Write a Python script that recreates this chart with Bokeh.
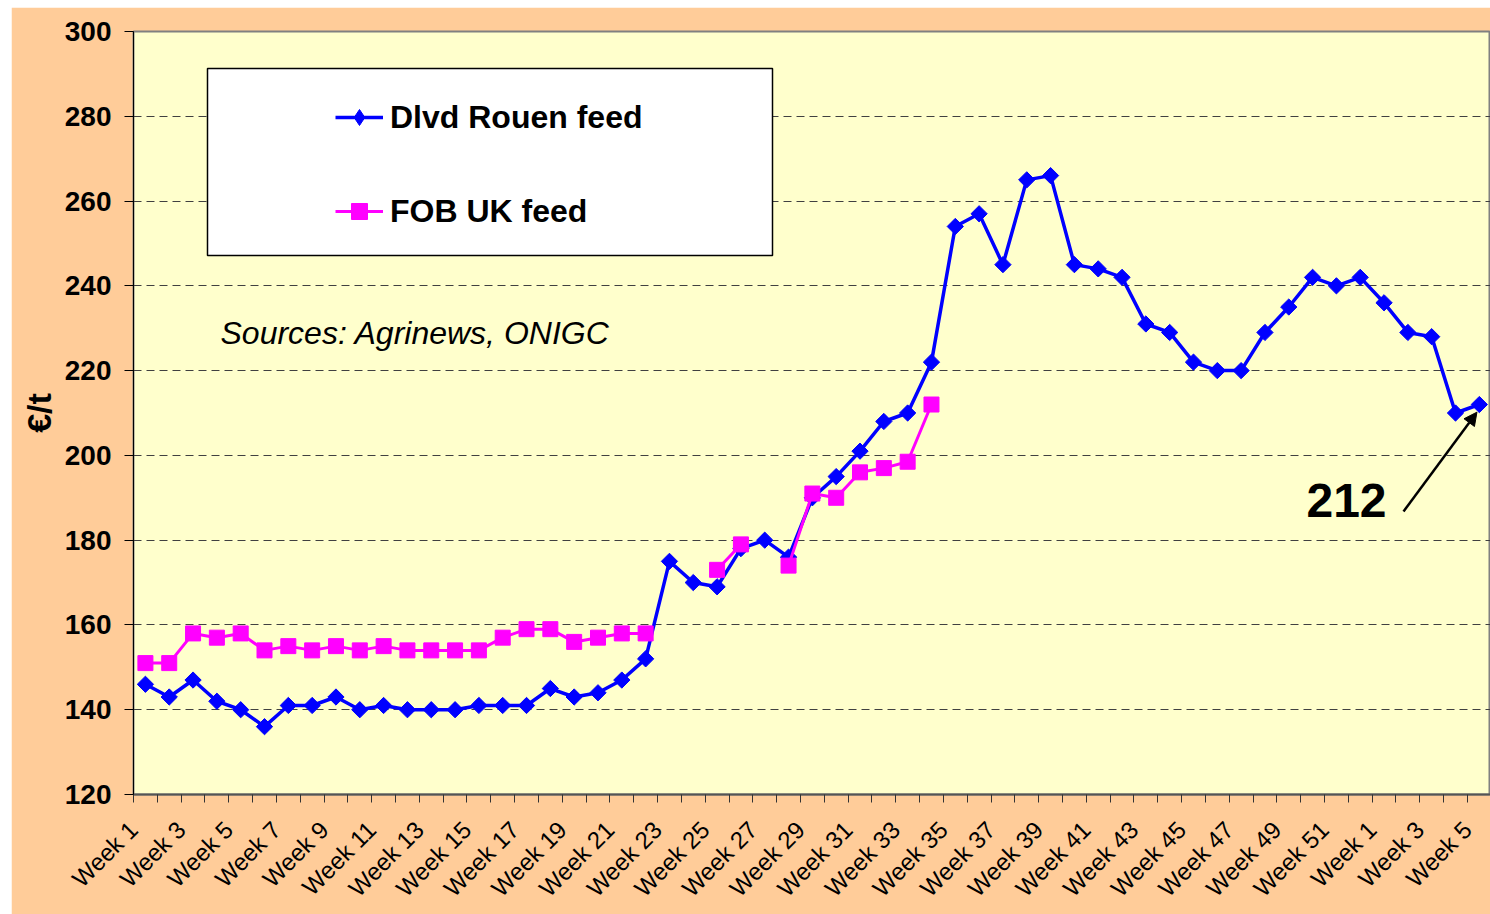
from bokeh.plotting import figure
from bokeh.models import (Range1d, FixedTicker, CustomJSTickFormatter, Legend, LegendItem,
                          BoxAnnotation, Label, Arrow, NormalHead)
from bokeh.embed import file_html
from bokeh.resources import INLINE
import math

nan = float("nan")

# ---- data ----
weeks = [f"Week {i}" for i in range(1, 53)] + [f"Week {i}" for i in range(1, 6)]

rouen = [146, 143, 147, 142, 140, 136, 141, 141, 143, 140,
         141, 140, 140, 140, 141, 141, 141, 145, 143, 144,
         147, 152, 175, 170, 169, 178, 180, 176, 190, 195,
         201, 208, 210, 222, 254, 257, 245, 265, 266, 245,
         244, 242, 231, 229, 222, 220, 220, 229, 235, 242,
         240, 242, 236, 229, 228, 210, 212]

fob_uk = [151, 151, 158, 157, 158, 154, 155, 154, 155, 154,
          155, 154, 154, 154, 154, 157, 159, 159, 156, 157,
          158, 158, nan, nan, 173, 179, nan, 174, 191, 190,
          196, 197, 198.5, 212] + [nan] * 23

y_ticks = [120, 140, 160, 180, 200, 220, 240, 260, 280, 300]

FONT = "Liberation Sans"
n = len(weeks)
xs = [i + 0.5 for i in range(n)]

# page layout constants (pixels)
OFF_L, OFF_T = 11, 7              # white strip left / top of the chart
PAGE_W, PAGE_H = 1490, 914
FRAME_L, FRAME_T, FRAME_B = 133, 31, 794
PX_PER_CAT = 23.82
PX_PER_EUR = (FRAME_B - FRAME_T) / (y_ticks[-1] - y_ticks[0])


def dx(px):
    return (px - FRAME_L) / PX_PER_CAT


def dy(py):
    return y_ticks[-1] - (py - FRAME_T) / PX_PER_EUR


W, H = PAGE_W - OFF_L, PAGE_H - OFF_T
p = figure(width=W, height=H, output_backend="svg", toolbar_location=None,
           x_range=Range1d(0, (PAGE_W - FRAME_L) / PX_PER_CAT),
           y_range=Range1d(y_ticks[0], y_ticks[-1]),
           min_border_left=FRAME_L - OFF_L, min_border_top=FRAME_T - OFF_T,
           min_border_bottom=PAGE_H - FRAME_B, min_border_right=0)
p.margin = (OFF_T, 0, 0, OFF_L)

p.border_fill_color = "#FFCC99"
p.background_fill_color = "#FFFFCC"
p.outline_line_color = "#808080"
p.outline_line_width = 2

# ---- axes ----
yax = p.yaxis[0]
yax.ticker = FixedTicker(ticks=y_ticks)
yax.axis_line_color = "black"
yax.major_tick_line_color = "black"
yax.major_tick_out = 9
yax.major_tick_in = 0
yax.minor_tick_line_color = None
yax.major_label_text_font = FONT
yax.major_label_text_font_style = "bold"
yax.major_label_text_font_size = "28px"
yax.major_label_text_color = "black"
yax.major_label_standoff = 13
yax.axis_label = "€/t"
yax.axis_label_text_font = FONT
yax.axis_label_text_font_style = "bold"
yax.axis_label_text_font_size = "34px"
yax.axis_label_text_color = "black"
yax.axis_label_standoff = 4

xax = p.xaxis[0]
xax.ticker = FixedTicker(ticks=list(range(0, n, 2)),
                         minor_ticks=list(range(0, n + 1)))
xax.formatter = CustomJSTickFormatter(args=dict(labels=weeks),
                                      code="return labels[Math.round(tick)] || '';")
xax.axis_line_color = "#555555"
xax.axis_line_width = 2
xax.major_tick_line_color = None
xax.minor_tick_line_color = "#333333"
xax.minor_tick_out = 8
xax.minor_tick_in = 0
xax.major_label_orientation = math.pi / 4
xax.major_label_text_font = FONT
xax.major_label_text_font_size = "24px"
xax.major_label_text_color = "black"
xax.major_label_standoff = 23

p.xgrid.grid_line_color = None
p.ygrid.ticker = FixedTicker(ticks=y_ticks[1:-1])
p.ygrid.grid_line_color = "#404040"
p.ygrid.grid_line_dash = "8 5"
p.ygrid.grid_line_width = 1

# ---- legend box (drawn beneath the legend) ----
p.add_layout(BoxAnnotation(left=dx(207), right=dx(772), top=dy(68), bottom=dy(255),
                           fill_color="white", fill_alpha=1.0,
                           line_color="black", line_alpha=1.0, line_width=1.5,
                           level="glyph"))

# ---- series ----
bl = p.line(xs, rouen, line_color="#0000FF", line_width=3.5)
bs = p.scatter(xs, rouen, marker="square", size=11.5, angle=math.pi / 4,
               fill_color="#0000FF", line_color="#0000FF")
ml = p.line(xs, fob_uk, line_color="#FF00FF", line_width=3)
ms = p.scatter(xs, fob_uk, marker="square", size=15,
               fill_color="#FF00FF", line_color="#FF00FF")
# legend-only diamond (legend glyphs ignore marker angle)
bkey = p.scatter([nan], [nan], marker="diamond", size=16,
                 fill_color="#0000FF", line_color="#0000FF")

legend = Legend(items=[LegendItem(label="Dlvd Rouen feed", renderers=[bl, bkey]),
                       LegendItem(label="FOB UK feed", renderers=[ml, ms])],
                location=(335 - FRAME_L, FRAME_B - 231),
                background_fill_alpha=0, border_line_alpha=0,
                padding=0, margin=0, spacing=54,
                glyph_width=48, glyph_height=40, label_height=40,
                label_standoff=7,
                label_text_font=FONT, label_text_font_style="bold",
                label_text_font_size="32px", label_text_color="black")
p.add_layout(legend, "center")

# ---- annotations ----
p.add_layout(Label(x=dx(220), y=dy(332), text="Sources: Agrinews, ONIGC",
                   text_font=FONT, text_font_style="italic", text_font_size="32px",
                   text_color="black", text_baseline="middle", text_align="left"))

last_x, last_y = xs[-1], rouen[-1]
p.add_layout(Label(x=dx(1346), y=dy(500), text=f"{last_y:g}",
                   text_font=FONT, text_font_style="bold", text_font_size="48px",
                   text_color="black", text_baseline="middle", text_align="center"))
p.add_layout(Arrow(end=NormalHead(size=13, fill_color="black", line_color="black"),
                   x_start=dx(1403), y_start=dy(511),
                   x_end=last_x - 0.1, y_end=last_y - 1.8,
                   line_color="black", line_width=2.5))

open("out.html", "w").write(file_html(p, INLINE))
